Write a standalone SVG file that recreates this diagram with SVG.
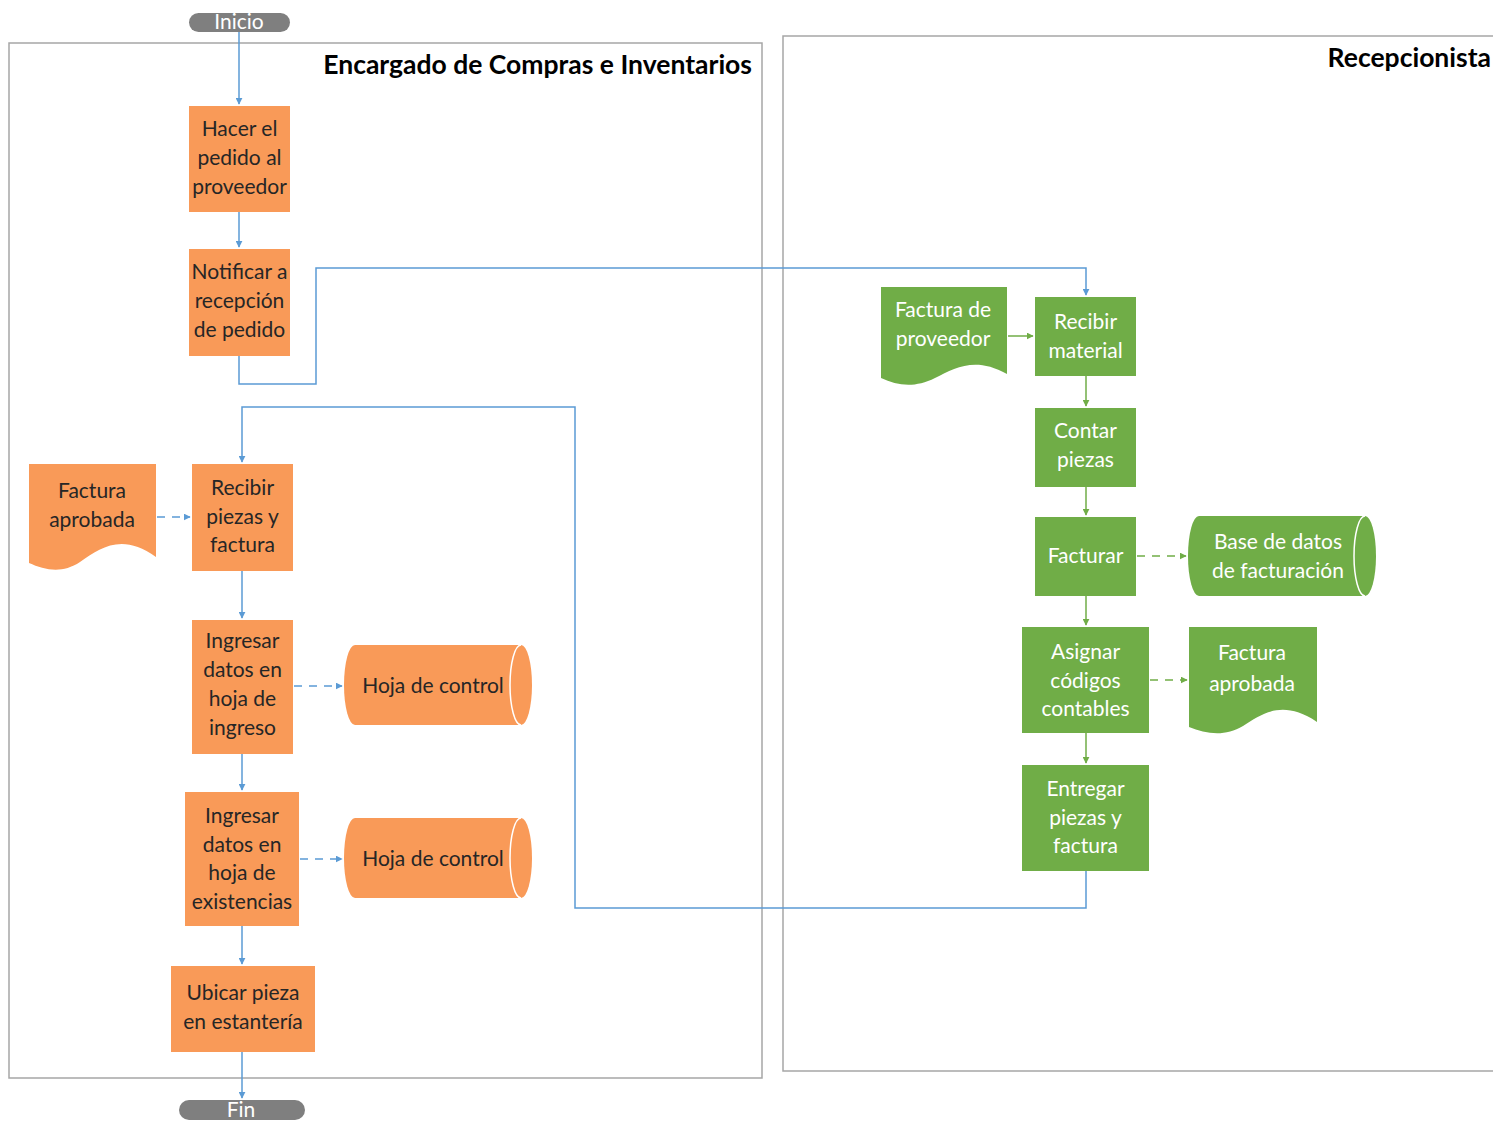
<svg xmlns="http://www.w3.org/2000/svg" width="1493" height="1121" viewBox="0 0 1493 1121">
  <style>
    .lane { fill: none; stroke: #a6a6a6; stroke-width: 1.5; }
    .title { font-family: Lato, "Open Sans", sans-serif; font-weight: bold; font-size: 26.5px; fill: #000; text-anchor: end; }
    .org { fill: #f99a58; }
    .grn { fill: #70ad47; }
    .term { fill: #7f7f7f; }
    .t { font-family: Lato, "Open Sans", sans-serif; font-size: 21px; text-anchor: middle; }
    .dk { fill: #262626; }
    .wt { fill: #ffffff; }
    .rim { fill: none; stroke: #ffffff; stroke-width: 1.5; }
    .cb { fill: none; stroke: #5b9bd5; stroke-width: 1.5; }
    .cg { fill: none; stroke: #70ad47; stroke-width: 1.5; }
    .dash { stroke-dasharray: 8 7; }
  </style>
  <defs>
    <marker id="ab" viewBox="0 0 10 10" refX="9" refY="5" markerWidth="7" markerHeight="7" markerUnits="userSpaceOnUse" orient="auto">
      <path d="M0,0 L10,5 L0,10 Z" fill="#5b9bd5"/>
    </marker>
    <marker id="ag" viewBox="0 0 10 10" refX="9" refY="5" markerWidth="7" markerHeight="7" markerUnits="userSpaceOnUse" orient="auto">
      <path d="M0,0 L10,5 L0,10 Z" fill="#70ad47"/>
    </marker>
  </defs>
  <rect width="1493" height="1121" fill="#ffffff"/>

  <!-- swimlanes -->
  <g id="lane-compras">
    <rect class="lane" x="9" y="43" width="753" height="1035"/>
    <text class="title" x="752" y="74">Encargado de Compras e Inventarios</text>
  </g>
  <g id="lane-recepcion">
    <path class="lane" d="M1500,36 H783 V1071 H1500"/>
    <text class="title" x="1491" y="67">Recepcionista</text>
  </g>

  <!-- connectors -->
  <g id="connectors">
    <path class="cb" d="M239,31 V104" marker-end="url(#ab)"/>
    <path class="cb" d="M239,212 V247" marker-end="url(#ab)"/>
    <path class="cb" d="M239,356 V384 H316 V268 H1086 V295" marker-end="url(#ab)"/>
    <path class="cb" d="M1086,871 V908 H575 V407 H242 V462" marker-end="url(#ab)"/>
    <path class="cb dash" d="M157,517 H190" marker-end="url(#ab)"/>
    <path class="cb" d="M242,571 V618" marker-end="url(#ab)"/>
    <path class="cb dash" d="M294,686 H342" marker-end="url(#ab)"/>
    <path class="cb" d="M242,754 V790" marker-end="url(#ab)"/>
    <path class="cb dash" d="M300,859 H342" marker-end="url(#ab)"/>
    <path class="cb" d="M242,926 V964" marker-end="url(#ab)"/>
    <path class="cb" d="M242,1052 V1098" marker-end="url(#ab)"/>

    <path class="cg" d="M1008,336 H1033" marker-end="url(#ag)"/>
    <path class="cg" d="M1086,376 V406" marker-end="url(#ag)"/>
    <path class="cg" d="M1086,487 V515" marker-end="url(#ag)"/>
    <path class="cg dash" d="M1137,556 H1186" marker-end="url(#ag)"/>
    <path class="cg" d="M1086,596 V625" marker-end="url(#ag)"/>
    <path class="cg dash" d="M1150,680 H1187" marker-end="url(#ag)"/>
    <path class="cg" d="M1086,733 V763" marker-end="url(#ag)"/>
  </g>

  <!-- terminators -->
  <g id="inicio">
    <rect class="term" x="189" y="13" width="101" height="19" rx="9.5"/>
    <text class="t wt" x="239" y="29">Inicio</text>
  </g>
  <g id="fin">
    <rect class="term" x="179" y="1100" width="126" height="20" rx="10"/>
    <text class="t wt" x="241" y="1117">Fin</text>
  </g>

  <!-- Encargado de Compras e Inventarios -->
  <g id="hacer-pedido">
    <rect class="org" x="189" y="106" width="101" height="106"/>
    <text class="t dk"><tspan x="239.5" y="136">Hacer el</tspan><tspan x="239.5" y="165">pedido al</tspan><tspan x="239.5" y="194">proveedor</tspan></text>
  </g>
  <g id="notificar">
    <rect class="org" x="189" y="249" width="101" height="107"/>
    <text class="t dk"><tspan x="239.5" y="279">Notificar a</tspan><tspan x="239.5" y="308">recepción</tspan><tspan x="239.5" y="337">de pedido</tspan></text>
  </g>
  <g id="factura-aprobada-1">
    <path class="org" d="M29,464 H156 V557 C122,532 100,548 80,562 C62,574 45,570 29,563 Z"/>
    <text class="t dk"><tspan x="92" y="498">Factura</tspan><tspan x="92" y="527">aprobada</tspan></text>
  </g>
  <g id="recibir-piezas">
    <rect class="org" x="192" y="464" width="101" height="107"/>
    <text class="t dk"><tspan x="242.5" y="495">Recibir</tspan><tspan x="242.5" y="524">piezas y</tspan><tspan x="242.5" y="552">factura</tspan></text>
  </g>
  <g id="ingresar-ingreso">
    <rect class="org" x="192" y="620" width="101" height="134"/>
    <text class="t dk"><tspan x="242.5" y="648">Ingresar</tspan><tspan x="242.5" y="677">datos en</tspan><tspan x="242.5" y="706">hoja de</tspan><tspan x="242.5" y="735">ingreso</tspan></text>
  </g>
  <g id="hoja-control-1">
    <path class="org" d="M355,645 H521 A11,40 0 0 1 521,725 H355 A11,40 0 0 1 355,645 Z"/>
    <path class="rim" d="M521,645 A11,40 0 0 0 521,725"/>
    <text class="t dk" x="433" y="693">Hoja de control</text>
  </g>
  <g id="ingresar-existencias">
    <rect class="org" x="185" y="792" width="114" height="134"/>
    <text class="t dk"><tspan x="242" y="823">Ingresar</tspan><tspan x="242" y="852">datos en</tspan><tspan x="242" y="880">hoja de</tspan><tspan x="242" y="909">existencias</tspan></text>
  </g>
  <g id="hoja-control-2">
    <path class="org" d="M355,818 H521 A11,40 0 0 1 521,898 H355 A11,40 0 0 1 355,818 Z"/>
    <path class="rim" d="M521,818 A11,40 0 0 0 521,898"/>
    <text class="t dk" x="433" y="866">Hoja de control</text>
  </g>
  <g id="ubicar-pieza">
    <rect class="org" x="171" y="966" width="144" height="86"/>
    <text class="t dk"><tspan x="243" y="1000">Ubicar pieza</tspan><tspan x="243" y="1029">en estantería</tspan></text>
  </g>

  <!-- Recepcionista -->
  <g id="factura-proveedor">
    <path class="grn" d="M881,287 H1007 V374 C975,356 955,368 935,378 C915,388 898,386 881,378 Z"/>
    <text class="t wt"><tspan x="943" y="317">Factura de</tspan><tspan x="943" y="346">proveedor</tspan></text>
  </g>
  <g id="recibir-material">
    <rect class="grn" x="1035" y="297" width="101" height="79"/>
    <text class="t wt"><tspan x="1085.5" y="329">Recibir</tspan><tspan x="1085.5" y="358">material</tspan></text>
  </g>
  <g id="contar-piezas">
    <rect class="grn" x="1035" y="408" width="101" height="79"/>
    <text class="t wt"><tspan x="1085.5" y="438">Contar</tspan><tspan x="1085.5" y="467">piezas</tspan></text>
  </g>
  <g id="facturar">
    <rect class="grn" x="1035" y="517" width="101" height="79"/>
    <text class="t wt" x="1085.5" y="563">Facturar</text>
  </g>
  <g id="base-datos">
    <path class="grn" d="M1199,516 H1365 A11,40 0 0 1 1365,596 H1199 A11,40 0 0 1 1199,516 Z"/>
    <path class="rim" d="M1365,516 A11,40 0 0 0 1365,596"/>
    <text class="t wt"><tspan x="1278" y="549">Base de datos</tspan><tspan x="1278" y="578">de facturación</tspan></text>
  </g>
  <g id="asignar-codigos">
    <rect class="grn" x="1022" y="627" width="127" height="106"/>
    <text class="t wt"><tspan x="1085.5" y="659">Asignar</tspan><tspan x="1085.5" y="688">códigos</tspan><tspan x="1085.5" y="716">contables</tspan></text>
  </g>
  <g id="factura-aprobada-2">
    <path class="grn" d="M1189,627 H1317 V722 C1284,700 1264,712 1243,726 C1225,737 1206,734 1189,727 Z"/>
    <text class="t wt"><tspan x="1252" y="660">Factura</tspan><tspan x="1252" y="691">aprobada</tspan></text>
  </g>
  <g id="entregar-piezas">
    <rect class="grn" x="1022" y="765" width="127" height="106"/>
    <text class="t wt"><tspan x="1085.5" y="796">Entregar</tspan><tspan x="1085.5" y="825">piezas y</tspan><tspan x="1085.5" y="853">factura</tspan></text>
  </g>
</svg>
